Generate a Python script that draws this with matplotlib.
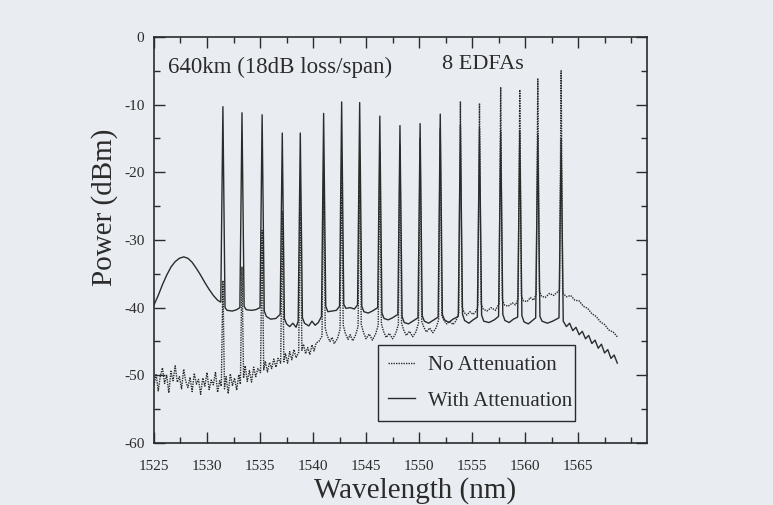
import numpy as np
import matplotlib
matplotlib.use('Agg')
import matplotlib.pyplot as plt
from matplotlib.ticker import MultipleLocator

plt.rcParams['font.family'] = ['Liberation Serif', 'DejaVu Serif']
plt.rcParams['axes.unicode_minus'] = False

# channel centres (nm)
channels = [1531.5, 1533.3, 1535.2, 1537.1, 1538.8, 1541.0, 1542.7, 1544.4, 1546.3,
            1548.2, 1550.1, 1552.0, 1553.9, 1555.7, 1557.7, 1559.5, 1561.2, 1563.4]

# peak powers (dBm)
peak_with = [-10.3, -11.2, -11.5, -14.2, -14.2, -11.3, -9.6, -9.7, -11.7,
             -13.1, -12.8, -11.4, -13.0, -13.5, -14.0, -14.0, -14.5, -15.0]
peak_no = [-36.0, -34.0, -28.6, -25.8, -22.1, -20.0, -19.0, -18.0, -17.0,
           -16.0, -15.0, -13.5, -9.6, -9.8, -7.4, -7.8, -6.2, -5.0]

# floor between the channels, "With Attenuation"
floor_with_wl = [1525.0, 1525.4, 1525.8, 1526.2, 1526.6, 1527.0, 1527.4, 1527.8, 1528.2,
                 1528.6, 1529.0, 1529.4, 1529.8, 1530.2, 1530.6, 1531.0, 1531.3,
                 1531.7, 1531.9, 1532.4, 1532.8, 1533.1,
                 1533.5, 1533.7, 1534.2, 1534.6, 1535.0,
                 1535.4, 1535.6, 1536.0, 1536.5, 1536.9,
                 1537.3, 1537.5, 1537.8, 1538.1, 1538.4, 1538.6,
                 1539.0, 1539.2, 1539.6, 1539.9, 1540.2, 1540.5, 1540.8,
                 1541.2, 1541.4, 1541.8, 1542.2, 1542.5,
                 1542.9, 1543.1, 1543.5, 1543.9, 1544.2,
                 1544.6, 1544.8, 1545.2, 1545.6, 1546.1,
                 1546.5, 1546.7, 1547.1, 1547.5, 1548.0,
                 1548.4, 1548.6, 1549.0, 1549.4, 1549.9,
                 1550.3, 1550.5, 1550.9, 1551.3, 1551.8,
                 1552.2, 1552.4, 1552.8, 1553.2, 1553.7,
                 1554.1, 1554.3, 1554.7, 1555.1, 1555.5,
                 1555.9, 1556.1, 1556.6, 1557.1, 1557.5,
                 1557.9, 1558.1, 1558.5, 1558.9, 1559.3,
                 1559.7, 1559.9, 1560.3, 1560.7, 1561.0,
                 1561.4, 1561.6, 1562.1, 1562.6, 1563.2,
                 1563.6, 1563.9, 1564.2, 1564.5, 1564.8, 1565.1, 1565.4, 1565.7,
                 1566.0, 1566.3, 1566.6, 1566.9, 1567.2, 1567.5, 1567.8, 1568.1,
                 1568.4, 1568.7]
floor_with_db = [-39.6, -38.2, -36.6, -35.2, -34.0, -33.2, -32.7, -32.5, -32.7,
                 -33.3, -34.2, -35.2, -36.3, -37.3, -38.2, -38.9, -39.2,
                 -40.0, -40.4, -40.5, -40.3, -40.0,
                 -39.8, -40.3, -40.4, -40.3, -40.0,
                 -40.5, -41.3, -41.7, -41.6, -41.0,
                 -41.6, -42.4, -42.8, -42.3, -42.9, -42.0,
                 -41.5, -42.3, -42.7, -42.0, -42.6, -42.2, -41.3,
                 -39.8, -40.6, -40.5, -40.4, -39.8,
                 -39.5, -40.1, -40.0, -40.2, -39.6,
                 -39.8, -40.6, -40.8, -40.5, -40.0,
                 -40.8, -41.6, -41.8, -41.5, -41.0,
                 -41.3, -42.2, -42.4, -42.0, -41.5,
                 -41.2, -42.0, -42.3, -41.9, -41.4,
                 -41.0, -41.8, -42.2, -41.7, -41.3,
                 -41.0, -41.9, -42.3, -41.8, -41.4,
                 -41.1, -42.0, -42.2, -41.8, -41.3,
                 -41.0, -41.9, -42.2, -41.7, -41.4,
                 -41.2, -42.1, -42.4, -41.9, -41.5,
                 -41.3, -42.0, -42.3, -42.0, -41.5,
                 -42.0, -42.8, -42.3, -43.4, -42.9, -44.0, -43.5, -44.6,
                 -44.1, -45.3, -44.8, -46.0, -45.4, -46.7, -46.2, -47.5,
                 -47.0, -48.2]

# floor between the channels, "No Attenuation"
floor_no_wl = [1525.0, 1525.2, 1525.4, 1525.6, 1525.8, 1526.0, 1526.2, 1526.4, 1526.6,
               1526.8, 1527.0, 1527.2, 1527.4, 1527.6, 1527.8, 1528.0, 1528.2, 1528.4,
               1528.6, 1528.8, 1529.0, 1529.2, 1529.4, 1529.6, 1529.8, 1530.0, 1530.2,
               1530.4, 1530.6, 1530.8, 1531.0, 1531.2, 1531.35,
               1531.65, 1531.8, 1532.0, 1532.2, 1532.4, 1532.6, 1532.8, 1533.0, 1533.15,
               1533.45, 1533.6, 1533.8, 1534.0, 1534.2, 1534.4, 1534.6, 1534.8, 1535.05,
               1535.35, 1535.5, 1535.7, 1535.9, 1536.1, 1536.3, 1536.5, 1536.7, 1536.95,
               1537.25, 1537.4, 1537.6, 1537.8, 1538.0, 1538.2, 1538.4, 1538.65,
               1538.95, 1539.1, 1539.3, 1539.5, 1539.7, 1539.9, 1540.1, 1540.3, 1540.55, 1540.85,
               1541.15, 1541.35, 1541.6, 1541.8, 1542.0, 1542.3, 1542.55,
               1542.85, 1543.05, 1543.3, 1543.5, 1543.75, 1544.0, 1544.25,
               1544.55, 1544.75, 1545.0, 1545.3, 1545.6, 1545.9, 1546.15,
               1546.45, 1546.65, 1546.9, 1547.2, 1547.5, 1547.8, 1548.05,
               1548.35, 1548.55, 1548.8, 1549.1, 1549.4, 1549.7, 1549.95,
               1550.25, 1550.45, 1550.7, 1551.0, 1551.3, 1551.6, 1551.85,
               1552.15, 1552.35, 1552.6, 1552.9, 1553.2, 1553.5, 1553.75,
               1554.05, 1554.25, 1554.5, 1554.8, 1555.1, 1555.4, 1555.55,
               1555.85, 1556.05, 1556.4, 1556.8, 1557.2, 1557.55,
               1557.85, 1558.05, 1558.4, 1558.8, 1559.1, 1559.35,
               1559.65, 1559.85, 1560.2, 1560.5, 1560.8, 1561.05,
               1561.35, 1561.55, 1561.9, 1562.3, 1562.7, 1563.25,
               1563.55, 1563.9, 1564.3, 1564.7, 1565.1, 1565.5, 1565.9, 1566.3,
               1566.7, 1567.1, 1567.5, 1567.9, 1568.3, 1568.7]
floor_no_db = [-51.5, -49.8, -52.3, -50.1, -48.9, -51.2, -50.0, -52.6, -49.4,
               -50.8, -48.6, -51.0, -50.2, -52.0, -49.1, -50.9, -51.8, -50.3,
               -52.4, -49.7, -51.3, -50.6, -52.8, -50.4, -51.6, -49.6, -52.1,
               -50.7, -51.4, -49.5, -52.5, -50.8, -51.6,
               -52.0, -50.2, -52.7, -49.8, -51.5, -50.4, -52.2, -49.9, -51.3,
               -50.4, -48.6, -50.9, -49.3, -51.0, -48.8, -50.2, -49.0, -49.6,
               -49.2, -47.9, -49.5, -48.1, -49.0, -47.6, -48.8, -47.5, -48.2,
               -48.0, -46.8, -48.2, -46.5, -47.7, -46.2, -47.4, -46.6,
               -46.3, -45.4, -46.8, -45.9, -46.9, -45.5, -46.4, -45.2, -45.0, -44.2,
               -43.0, -44.2, -45.0, -44.4, -45.3, -44.6, -43.2,
               -42.6, -43.8, -44.7, -44.0, -44.9, -44.1, -42.8,
               -42.5, -43.6, -44.6, -43.9, -44.8, -43.9, -42.6,
               -42.4, -43.5, -44.4, -43.8, -44.6, -43.8, -42.5,
               -42.3, -43.3, -44.1, -43.5, -44.3, -43.6, -42.3,
               -42.0, -42.9, -43.6, -43.0, -43.7, -43.0, -41.8,
               -41.2, -41.9, -42.4, -42.0, -42.5, -41.9, -40.8,
               -39.9, -40.7, -41.1, -40.6, -41.0, -40.5, -39.8,
               -39.4, -40.2, -40.5, -40.0, -40.4, -39.4,
               -38.8, -39.6, -39.8, -39.3, -39.6, -38.7,
               -38.2, -39.0, -39.1, -38.5, -38.9, -38.0,
               -37.5, -38.3, -38.5, -37.9, -38.2, -37.4,
               -37.8, -38.4, -38.2, -38.9, -39.0, -39.8, -40.1, -40.9,
               -41.3, -42.1, -42.5, -43.3, -43.6, -44.3]

xticks = [1525, 1530, 1535, 1540, 1545, 1550, 1555, 1560, 1565]
yticks = [0, -10, -20, -30, -40, -50, -60]


def trace(floor_wl, floor_db, peaks):
    wl = np.concatenate([floor_wl, channels])
    db = np.concatenate([floor_db, peaks])
    order = np.argsort(wl, kind='stable')
    return wl[order], db[order]


bg = '#e9edf2'
ink = '#2b2b2b'

fig = plt.figure(figsize=(7.73, 5.05), dpi=100, facecolor=bg)
ax = fig.add_axes([0.1992, 0.1228, 0.6378, 0.804], facecolor=bg)

x_no, y_no = trace(floor_no_wl, floor_no_db, peak_no)
x_w, y_w = trace(floor_with_wl, floor_with_db, peak_with)
ax.plot(x_no, y_no, color=ink, lw=1.0, ls=(0, (1, 0.8)), label='No Attenuation')
ax.plot(x_w, y_w, color=ink, lw=1.0, label='With Attenuation')

ax.set_xlim(1525, 1571.5)
ax.set_ylim(-60, 0)
ax.set_xticks(xticks)
ax.set_yticks(yticks)
ax.xaxis.set_minor_locator(MultipleLocator(2.5))
ax.yaxis.set_minor_locator(MultipleLocator(5))
ax.tick_params(which='both', direction='in', top=True, right=True, colors=ink,
               labelsize=11, width=1.0)
ax.tick_params(which='major', length=8)
ax.tick_params(which='minor', length=4)
ax.tick_params(axis='x', pad=12)
ax.tick_params(axis='y', pad=7)
for s in ax.spines.values():
    s.set_color(ink)
    s.set_linewidth(1.2)

ax.set_xlabel('Wavelength (nm)', fontsize=21, color=ink)
ax.set_ylabel('Power (dBm)', fontsize=21, color=ink)
ax.xaxis.set_label_coords(0.53, -0.085)
ax.yaxis.set_label_coords(-0.073, 0.58)

ax.text(0.028, 0.924, '640km (18dB loss/span)', transform=ax.transAxes,
        fontsize=16.5, color=ink, va='center', ha='left')
ax.text(0.584, 0.931, '8 EDFAs', transform=ax.transAxes,
        fontsize=16, color=ink, va='center', ha='left')

leg = ax.legend(loc='lower left', bbox_to_anchor=(0.454, 0.054, 0.40, 0.19),
                mode='expand', fontsize=15, frameon=True, fancybox=False,
                handlelength=1.3, handletextpad=0.6, borderpad=0.5,
                labelspacing=0.75, borderaxespad=0, labelcolor=ink)
leg.get_frame().set_edgecolor(ink)
leg.get_frame().set_facecolor(bg)
leg.get_frame().set_linewidth(1.0)
leg.get_frame().set_alpha(1)

fig.savefig('out.png', dpi=100, facecolor=bg)
